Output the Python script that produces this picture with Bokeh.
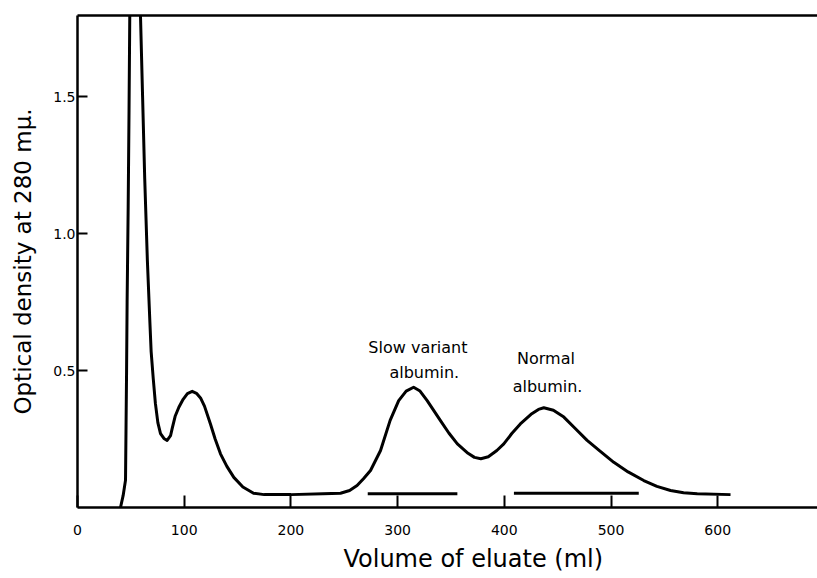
from bokeh.plotting import figure
from bokeh.models import LinearAxis, FixedTicker, Range1d, ColumnDataSource, Title
from bokeh.core.properties import value
from bokeh.embed import file_html
from bokeh.resources import INLINE

# ---- data ----
volume = [40.3, 42.8, 45.0, 45.5, 46.0, 46.5, 47.5, 48.3, 49.0, 54.0,
          59.0, 61.0, 63.0, 65.5, 67.8, 69.0, 71.0, 73.0, 75.3, 77.8,
          81.0, 84.0, 87.2, 88.7, 91.5, 95.0, 99.0, 103.0, 107.5, 111.5,
          115.3, 119.0, 124.6, 129.0, 134.0, 140.0, 146.5, 155.0, 165.0, 175.0,
          200.0, 230.0, 246.5, 255.0, 262.0, 268.0, 274.6, 284.0, 293.0, 301.0,
          308.0, 315.0, 321.0, 327.7, 340.0, 348.0, 356.0, 366.0, 372.0, 378.0,
          385.0, 393.0, 399.5, 407.0, 415.0, 425.0, 432.0, 437.0, 446.0, 455.8,
          466.0, 477.6, 490.0, 502.6, 516.0, 530.7, 543.0, 555.8, 568.0, 580.8,
          612.0]
optical_density = [0.0, 0.044, 0.10, 0.30, 0.50, 0.75, 1.10, 1.45, 1.80, 1.95,
                   1.80, 1.50, 1.20, 0.90, 0.68, 0.57, 0.47, 0.38, 0.31, 0.27,
                   0.252, 0.245, 0.262, 0.288, 0.333, 0.366, 0.395, 0.416, 0.424, 0.417,
                   0.40, 0.37, 0.305, 0.25, 0.196, 0.15, 0.11, 0.075, 0.052, 0.047,
                   0.047, 0.05, 0.052, 0.062, 0.08, 0.105, 0.135, 0.208, 0.318, 0.39,
                   0.425, 0.439, 0.425, 0.39, 0.318, 0.272, 0.232, 0.198, 0.183, 0.178,
                   0.185, 0.208, 0.232, 0.27, 0.305, 0.34, 0.358, 0.364, 0.355, 0.33,
                   0.29, 0.245, 0.205, 0.165, 0.13, 0.0985, 0.077, 0.062, 0.054, 0.05,
                   0.047]

fraction_start = [272, 409]
fraction_end = [356, 526]
fraction_level = [0.05, 0.052]

annot_x = [319, 325, 439, 440.5]
annot_y = [0.584, 0.493, 0.544, 0.442]
annot_text = ["Slow variant", "albumin.", "Normal", "albumin."]

x_ticks = [0, 100, 200, 300, 400, 500, 600]
y_ticks = [0.5, 1.0, 1.5]
y_tick_labels = {0.5: "0.5", 1.0: "1.0", 1.5: "1.5"}

x_title = "Volume of eluate (ml)"
y_title = "Optical density at 280 m\u03bc."

FONT = "DejaVu Sans"

p = figure(width=817, height=578, x_range=Range1d(0, 693.5), y_range=Range1d(0, 1.796),
           output_backend="svg", toolbar_location=None,
           min_border_left=77, min_border_right=0, min_border_top=15, min_border_bottom=71)
p.grid.visible = False
p.outline_line_color = None
p.background_fill_color = "white"
p.border_fill_color = "white"

p.line(volume, optical_density, line_width=3, line_color="black", line_join="round")
p.segment(x0=fraction_start, y0=fraction_level, x1=fraction_end, y1=fraction_level,
          line_width=3, line_color="black")

src = ColumnDataSource(dict(x=annot_x, y=annot_y, t=annot_text))
p.text(x="x", y="y", text="t", source=src, text_font=value(FONT), text_font_size="16px",
       text_align="center", text_baseline="alphabetic", text_color="black")

# bottom axis
xa = p.xaxis[0]
xa.ticker = FixedTicker(ticks=x_ticks)
xa.major_tick_in = 12
xa.major_tick_out = 0
xa.minor_tick_in = 0
xa.minor_tick_out = 0
xa.major_tick_line_width = 2
xa.axis_line_width = 2.5
xa.major_label_standoff = 17
xa.major_label_text_font = FONT
xa.major_label_text_font_size = "14px"
xa.major_label_text_color = "black"

p.add_layout(Title(text=x_title, align="left", offset=266, text_font=FONT,
                   text_font_size="24px", text_font_style="normal", text_color="black",
                   standoff=10), "below")

# left axis
ya = p.yaxis[0]
ya.ticker = FixedTicker(ticks=y_ticks)
ya.major_label_overrides = y_tick_labels
ya.major_tick_in = 10
ya.major_tick_out = 0
ya.minor_tick_in = 0
ya.minor_tick_out = 0
ya.major_tick_line_width = 2
ya.axis_line_width = 2.5
ya.major_label_standoff = 2
ya.major_label_text_font = FONT
ya.major_label_text_font_size = "14px"
ya.major_label_text_color = "black"
ya.axis_label = y_title
ya.axis_label_text_font = FONT
ya.axis_label_text_font_size = "23px"
ya.axis_label_text_font_style = "normal"
ya.axis_label_standoff = 14
ya.axis_label_text_color = "black"

# top border line
top = LinearAxis(ticker=FixedTicker(ticks=[]), major_tick_in=0, major_tick_out=0,
                 minor_tick_in=0, minor_tick_out=0, major_label_text_font_size="0px",
                 axis_line_width=2.5)
p.add_layout(top, "above")

open("out.html", "w").write(file_html(p, INLINE))
